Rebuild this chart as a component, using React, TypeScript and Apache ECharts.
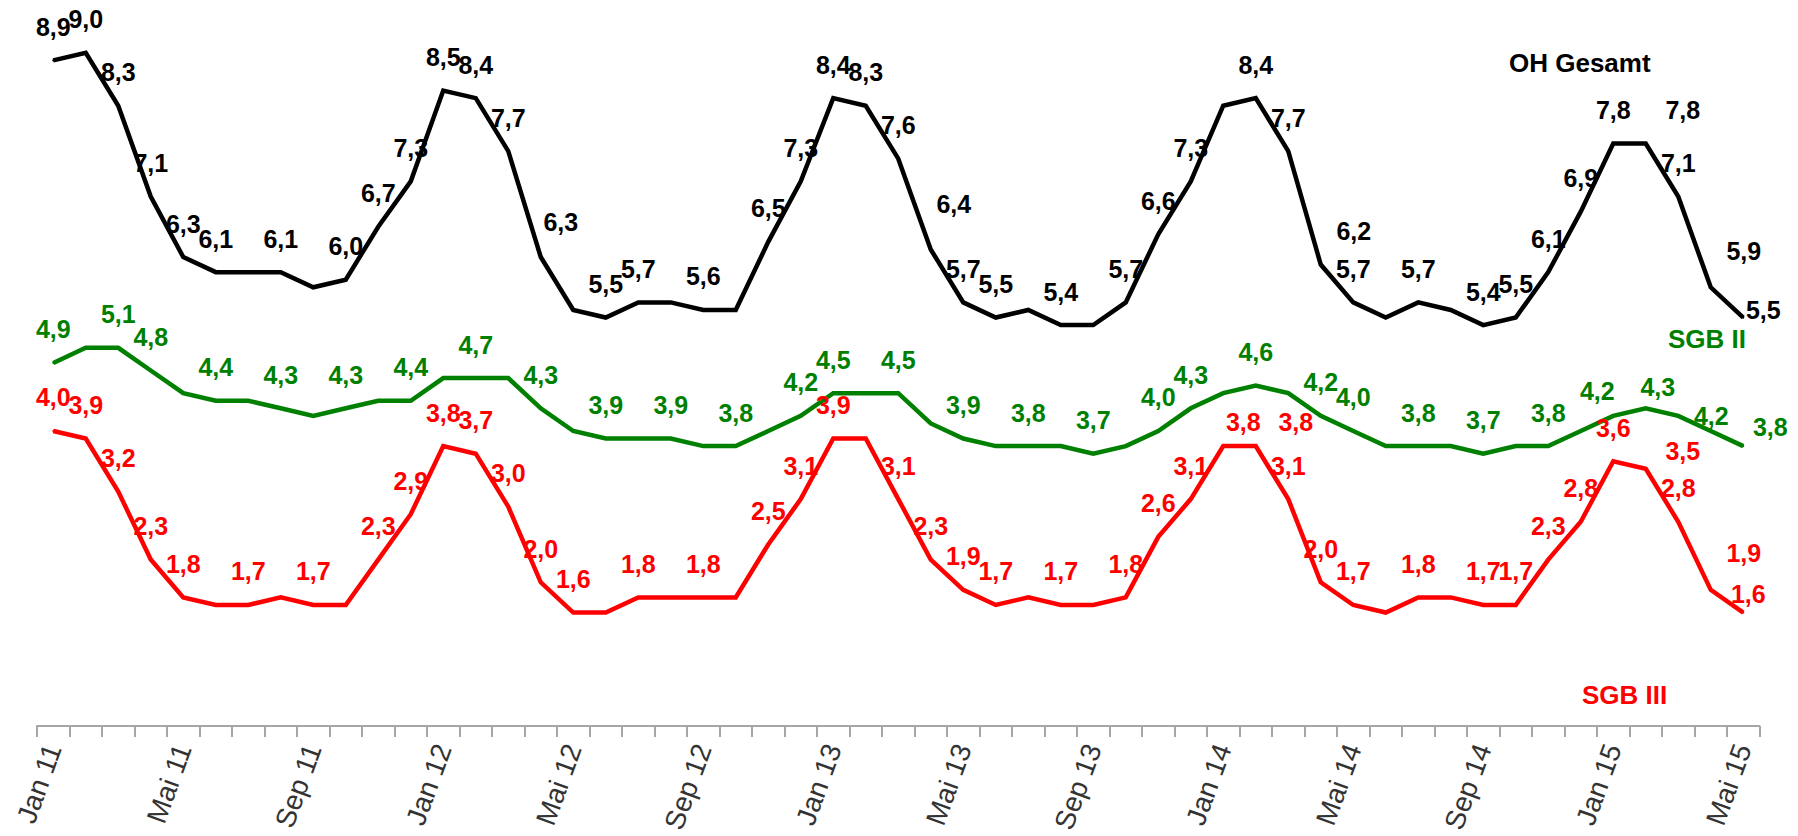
import React, { useEffect, useRef } from "react";
import * as echarts from "echarts";

const monthNames = ["Jan", "Feb", "Mär", "Apr", "Mai", "Jun", "Jul", "Aug", "Sep", "Okt", "Nov", "Dez"];
const yearNames = ["11", "12", "13", "14", "15"];
const lastMonthCount = 5; // Jan..Mai 15

const ohGesamt = [
  8.9, 9.0, 8.3, 7.1, 6.3, 6.1, 6.1, 6.1, 5.9, 6.0, 6.7, 7.3,
  8.5, 8.4, 7.7, 6.3, 5.6, 5.5, 5.7, 5.7, 5.6, 5.6, 6.5, 7.3,
  8.4, 8.3, 7.6, 6.4, 5.7, 5.5, 5.6, 5.4, 5.4, 5.7, 6.6, 7.3,
  8.3, 8.4, 7.7, 6.2, 5.7, 5.5, 5.7, 5.6, 5.4, 5.5, 6.1, 6.9,
  7.8, 7.8, 7.1, 5.9, 5.5,
];
const sgb2 = [
  4.9, 5.1, 5.1, 4.8, 4.5, 4.4, 4.4, 4.3, 4.2, 4.3, 4.4, 4.4,
  4.7, 4.7, 4.7, 4.3, 4.0, 3.9, 3.9, 3.9, 3.8, 3.8, 4.0, 4.2,
  4.5, 4.5, 4.5, 4.1, 3.9, 3.8, 3.8, 3.8, 3.7, 3.8, 4.0, 4.3,
  4.5, 4.6, 4.5, 4.2, 4.0, 3.8, 3.8, 3.8, 3.7, 3.8, 3.8, 4.0,
  4.2, 4.3, 4.2, 4.0, 3.8,
];
const sgb3 = [
  4.0, 3.9, 3.2, 2.3, 1.8, 1.7, 1.7, 1.8, 1.7, 1.7, 2.3, 2.9,
  3.8, 3.7, 3.0, 2.0, 1.6, 1.6, 1.8, 1.8, 1.8, 1.8, 2.5, 3.1,
  3.9, 3.9, 3.1, 2.3, 1.9, 1.7, 1.8, 1.7, 1.7, 1.8, 2.6, 3.1,
  3.8, 3.8, 3.1, 2.0, 1.7, 1.6, 1.8, 1.8, 1.7, 1.7, 2.3, 2.8,
  3.6, 3.5, 2.8, 1.9, 1.6,
];

// indices of points that carry a value label
const ohLabelled = [0, 1, 2, 3, 4, 5, 7, 9, 10, 11, 12, 13, 14, 15, 17, 18, 20, 22, 23, 24, 25, 26, 27, 28, 29, 31, 33, 34, 35, 37, 38, 39, 40, 42, 44, 45, 46, 47, 48, 49, 50, 51, 52];
const sgb2Labelled = [0, 2, 3, 5, 7, 9, 11, 13, 15, 17, 19, 21, 23, 24, 26, 28, 30, 32, 34, 35, 37, 39, 40, 42, 44, 46, 48, 49, 50, 52];
const sgb3Labelled = [0, 1, 2, 3, 4, 6, 8, 10, 11, 12, 13, 14, 15, 16, 18, 20, 22, 23, 24, 26, 27, 28, 29, 31, 33, 34, 35, 36, 37, 38, 39, 40, 42, 44, 45, 46, 47, 48, 49, 50, 51, 52];

const seriesNames = ["OH Gesamt", "SGB II", "SGB III"];

// style: manual label nudges (px) as placed in the original chart
const ohLabelNudge: Record<number, [number, number]> = {
  15: [20, -2], 27: [23, -12], 39: [33, 0], 49: [37, 0], 51: [33, -3], 52: [20, 26],
};
const sgb2LabelNudge: Record<number, [number, number]> = {
  48: [-16, 9], 49: [12, 12], 50: [33, 34], 52: [27, 14],
};
const sgb3LabelNudge: Record<number, [number, number]> = {
  36: [20, 9], 37: [40, 9], 49: [37, 16], 51: [33, -3], 52: [5, 15],
};

const categories: string[] = [];
yearNames.forEach((y, yi) => {
  const n = yi === yearNames.length - 1 ? lastMonthCount : monthNames.length;
  for (let m = 0; m < n; m++) categories.push(monthNames[m] + " " + y);
});

const FONT = "'Liberation Sans', Arial, Helvetica, sans-serif";

function buildData(values: number[], labelled: number[]) {
  const set = new Set(labelled);
  return values.map((v, i) => ({ value: v, label: { show: set.has(i) } }));
}

function makeSeries(
  name: string,
  values: number[],
  labelled: number[],
  nudge: Record<number, [number, number]>,
  color: string
) {
  return {
    name,
    type: "line",
    data: buildData(values, labelled),
    symbol: "circle",
    symbolSize: 2,
    showSymbol: true,
    itemStyle: { color },
    lineStyle: { color, width: 4.5, join: "miter" },
    label: {
      show: true,
      position: "top",
      distance: 20,
      color,
      fontFamily: FONT,
      fontSize: 25,
      fontWeight: "bold",
      formatter: (p: any) => Number(p.value).toFixed(1).replace(".", ","),
    },
    labelLayout: (params: any) => {
      const n = nudge[params.dataIndex];
      return n ? { dx: n[0], dy: n[1], hideOverlap: false } : { hideOverlap: false };
    },
    emphasis: { disabled: true },
    silent: true,
  };
}

export default function App() {
  const ref = useRef<HTMLDivElement>(null);
  useEffect(() => {
    document.body.style.margin = "0";
    const chart = echarts.init(ref.current!, undefined, { renderer: "svg" });
    chart.setOption({
      animation: false,
      backgroundColor: "#ffffff",
      grid: { left: 37, right: 38.5, top: 7.4, bottom: 106.6, containLabel: false },
      xAxis: {
        type: "category",
        data: categories,
        boundaryGap: true,
        axisLine: { show: true, lineStyle: { color: "#a6a6a6", width: 2 } },
        axisTick: { show: true, interval: 0, length: 11, lineStyle: { color: "#a6a6a6", width: 2 } },
        axisLabel: {
          interval: 3,
          rotate: 70,
          margin: 19,
          color: "#333333",
          fontFamily: FONT,
          fontSize: 28,
        },
        splitLine: { show: false },
      },
      yAxis: {
        type: "value",
        min: 0.1,
        max: 9.6,
        show: false,
        splitLine: { show: false },
      },
      series: [
        makeSeries(seriesNames[0], ohGesamt, ohLabelled, ohLabelNudge, "#000000"),
        makeSeries(seriesNames[1], sgb2, sgb2Labelled, sgb2LabelNudge, "#008000"),
        makeSeries(seriesNames[2], sgb3, sgb3Labelled, sgb3LabelNudge, "#ff0000"),
      ],
      graphic: [
        {
          type: "text",
          left: 1509,
          top: 50,
          style: { text: seriesNames[0], fill: "#000000", font: `bold 26px ${FONT}` },
          silent: true,
        },
        {
          type: "text",
          left: 1668,
          top: 326,
          style: { text: seriesNames[1], fill: "#008000", font: `bold 26px ${FONT}` },
          silent: true,
        },
        {
          type: "text",
          left: 1582,
          top: 682,
          style: { text: seriesNames[2], fill: "#ff0000", font: `bold 26px ${FONT}` },
          silent: true,
        },
      ],
    });
    return () => chart.dispose();
  }, []);
  return <div ref={ref} style={{ width: 1798, height: 836 }} />;
}
